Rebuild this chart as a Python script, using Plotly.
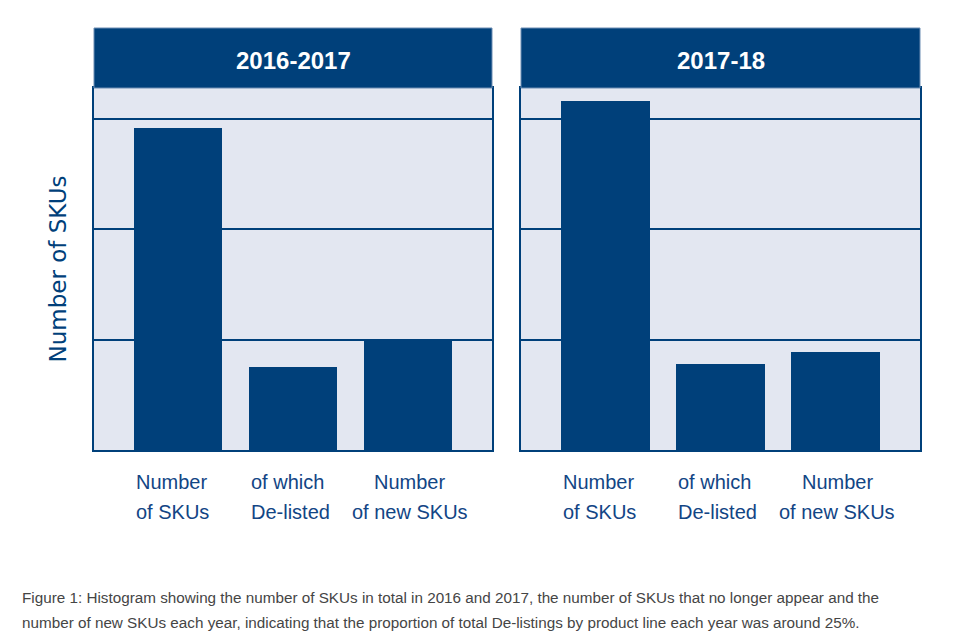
import plotly.graph_objects as go
from plotly.subplots import make_subplots

categories = ["Number of SKUs", "of which De-listed", "Number of new SKUs"]
category_lines = [["Number", "of SKUs"], ["of which", "De-listed"], ["Number", "of new SKUs"]]
panel_titles = ["2016-2017", "2017-18"]
values_2016_17 = [2.92, 0.755, 1.0]
values_2017_18 = [3.16, 0.78, 0.89]
caption_lines = [
    "Figure 1: Histogram showing the number of SKUs in total in 2016 and 2017, the number of SKUs that no longer appear and the",
    "number of new SKUs each year, indicating that the proportion of total De-listings by product line each year was around 25%.",
]

NAVY = "#00407a"
BG = "#e3e7f1"
TXT = "#124585"
W, H = 960, 640
OFF = 8  # page body margin offset
BAR_W = 0.77
LABEL_ANCHOR = ["left", "left", "center"]

def px_x(v):
    return (v - OFF) / W

def px_y(v):
    return 1 - (v - OFF) / H

fig = make_subplots(rows=1, cols=2)

for i, vals in enumerate([values_2016_17, values_2017_18]):
    fig.add_trace(
        go.Bar(x=categories, y=vals, marker=dict(color=NAVY, line=dict(width=0)),
               width=BAR_W, showlegend=False, hoverinfo="skip"),
        row=1, col=i + 1,
    )

domains = [(94, 492), (521, 920)]
y_top, y_bot = 88, 450

axis_common = dict(showline=True, linecolor=NAVY, linewidth=2, mirror=True)
for i, (l, r) in enumerate(domains):
    xa = "xaxis" if i == 0 else "xaxis2"
    ya = "yaxis" if i == 0 else "yaxis2"
    fig.layout[xa].update(
        domain=[px_x(l), px_x(r)], range=[-0.735, 2.735], showgrid=False,
        ticks="", showticklabels=False, **axis_common,
    )
    fig.layout[ya].update(
        domain=[px_y(y_bot), px_y(y_top)], range=[0, 3.28], dtick=1,
        showgrid=True, gridcolor=NAVY, gridwidth=2, showticklabels=False,
        zeroline=False, ticks="", **axis_common,
    )
    fig.add_shape(type="rect", xref="paper", yref="paper",
                  x0=px_x(l), x1=px_x(r), y0=px_y(y_top), y1=px_y(28),
                  fillcolor=NAVY, line=dict(color="#6d8db3", width=1), layer="above")
    fig.add_annotation(xref="paper", yref="paper", x=px_x((l + r) / 2), y=px_y(60),
                       text="<b>" + panel_titles[i] + "</b>", showarrow=False,
                       xanchor="center", yanchor="middle",
                       font=dict(family="Liberation Sans, Arial, sans-serif", size=24, color="white"))
    # category labels positioned on the category axis
    xref = "x" if i == 0 else "x2"
    for c, (cat, lines) in enumerate(zip(categories, category_lines)):
        anchor = LABEL_ANCHOR[c]
        xpos = c - BAR_W / 2 if anchor == "left" else c
        for line, yc in zip(lines, [482, 512]):
            fig.add_annotation(xref=xref, yref="paper", x=xpos, y=px_y(yc),
                               text=line, showarrow=False, xanchor=anchor, yanchor="middle",
                               xshift=(0 if anchor == "left" else 2),
                               font=dict(family="Liberation Sans, Arial, sans-serif", size=20, color=TXT))

fig.layout.yaxis.update(title=dict(text="Number of SKUs", standoff=19,
                                   font=dict(family="DejaVu Sans, Verdana, sans-serif", size=23, color=NAVY)))

for line, yc in zip(caption_lines, [597, 622]):
    fig.add_annotation(xref="paper", yref="paper", x=px_x(20), y=px_y(yc),
                       text=line, showarrow=False, align="left",
                       xanchor="left", yanchor="middle",
                       font=dict(family="Liberation Sans, Arial, sans-serif", size=15.25, color="#454545"))

fig.update_layout(
    width=W, height=H, margin=dict(l=0, r=0, t=0, b=0),
    paper_bgcolor="white", plot_bgcolor=BG, bargap=0,
)

fig.write_html("out.html")
